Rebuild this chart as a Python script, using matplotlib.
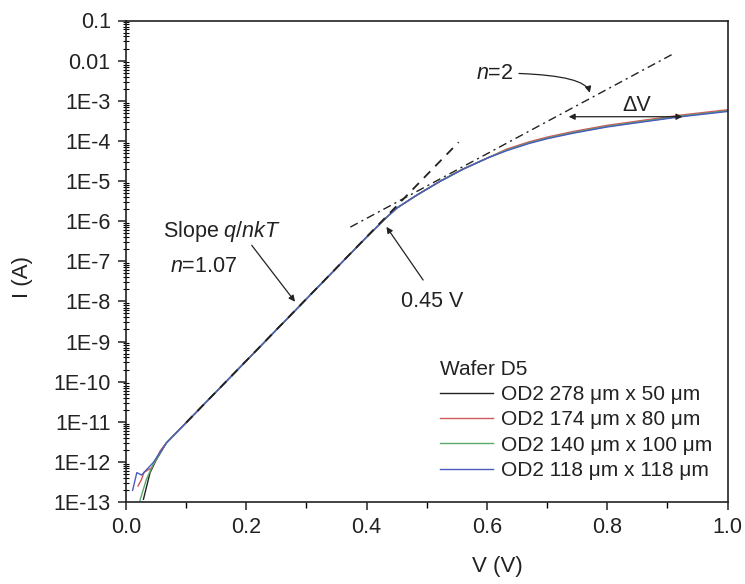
import numpy as np
import matplotlib
matplotlib.use("Agg")
import matplotlib.pyplot as plt
from matplotlib.ticker import FixedLocator, LogLocator, NullFormatter, MultipleLocator

plt.rcParams["font.family"] = ["Liberation Sans", "DejaVu Sans"]
plt.rcParams["mathtext.fontset"] = "custom"
plt.rcParams["mathtext.rm"] = "Liberation Sans"
plt.rcParams["mathtext.it"] = "Liberation Sans:italic"

# Shared forward-bias region (all four diodes overlap here), V in volts, I in amps
v_shared = [0.067, 0.10, 0.15, 0.20, 0.25, 0.30, 0.35, 0.40, 0.43, 0.45, 0.483,
            0.522, 0.561, 0.602, 0.633, 0.67, 0.70, 0.744, 0.80, 0.855, 0.92, 1.0]
i_shared = [2.95e-12, 9.5e-12, 5.6e-11, 3.3e-10, 1.95e-9, 1.15e-8, 6.8e-8, 4.0e-7,
            1.12e-6, 2.1e-6, 4.4e-6, 9.8e-6, 2.0e-5, 3.8e-5, 5.9e-5, 8.9e-5,
            1.17e-4, 1.62e-4, 2.3e-4, 3.0e-4, 4.1e-4, 5.6e-4]

# Low-voltage noise floor of each device
v_low_278 = [0.029, 0.040, 0.050]
i_low_278 = [1.17e-13, 5.4e-13, 1.1e-12]
v_low_174 = [0.020, 0.026, 0.030, 0.043, 0.057]
i_low_174 = [2.5e-13, 3.7e-13, 5.5e-13, 7.2e-13, 1.9e-12]
v_low_140 = [0.023, 0.034, 0.045]
i_low_140 = [1.07e-13, 3.7e-13, 8.5e-13]
v_low_118 = [0.011, 0.018, 0.026, 0.032, 0.045]
i_low_118 = [1.95e-13, 5.4e-13, 4.7e-13, 5.9e-13, 9.5e-13]

# High-injection tail where the devices separate slightly
v_tail = [0.633, 0.67, 0.70, 0.744, 0.80, 0.855, 0.92, 1.0]
i_tail_174 = [6.25e-5, 9.45e-5, 1.24e-4, 1.72e-4, 2.44e-4, 3.18e-4, 4.35e-4, 5.95e-4]
i_tail_118 = [5.7e-5, 8.6e-5, 1.13e-4, 1.56e-4, 2.22e-4, 2.9e-4, 3.95e-4, 5.4e-4]

labels = ["OD2 278 μm x 50 μm", "OD2 174 μm x 80 μm",
          "OD2 140 μm x 100 μm", "OD2 118 μm x 118 μm"]
colors = ["#222222", "#d05858", "#5aab6a", "#4a5cc0"]

# Ideality-factor guide lines
fit107_v = [0.10, 0.553]
fit107_i = [9.5e-12, 9.3e-5]
fit2_v = [0.373, 0.911]
fit2_i = [7.1e-7, 1.51e-2]

x_ticks = [0.0, 0.2, 0.4, 0.6, 0.8, 1.0]
x_ticklabels = ["0.0", "0.2", "0.4", "0.6", "0.8", "1.0"]
y_ticks = [1e-13, 1e-12, 1e-11, 1e-10, 1e-9, 1e-8, 1e-7, 1e-6, 1e-5, 1e-4, 1e-3, 1e-2, 1e-1]
y_ticklabels = ["1E-13", "1E-12", "1E-11", "1E-10", "1E-9", "1E-8", "1E-7",
                "1E-6", "1E-5", "1E-4", "1E-3", "0.01", "0.1"]


def build(v_low, i_low, tail=None):
    v = list(v_low) + list(v_shared)
    i = list(i_low) + list(i_shared)
    if tail is not None:
        n = len(v_tail)
        v = v[:-n] + list(v_tail)
        i = i[:-n] + list(tail)
    return v, i


series = [build(v_low_278, i_low_278),
          build(v_low_174, i_low_174, i_tail_174),
          build(v_low_140, i_low_140),
          build(v_low_118, i_low_118, i_tail_118)]

fig = plt.figure(figsize=(7.45, 5.84), dpi=100)
ax = fig.add_axes([126 / 745, 82 / 584, 601.5 / 745, 481.5 / 584])

for (v, i), lab, col in zip(series, labels, colors):
    ax.plot(v, i, color=col, lw=1.0, label=lab)

ax.plot(fit107_v, fit107_i, color="#222222", lw=1.3, ls=(0, (5, 4)))
ax.plot(fit2_v, fit2_i, color="#222222", lw=1.0, ls=(0, (6, 3, 1.5, 3)))

ax.set_yscale("log")
ax.set_xlim(0, 1.0)
ax.set_ylim(1e-13, 0.1)

ax.xaxis.set_major_locator(FixedLocator(x_ticks))
ax.set_xticklabels(x_ticklabels)
ax.xaxis.set_minor_locator(MultipleLocator(0.1))
ax.yaxis.set_major_locator(FixedLocator(y_ticks))
ax.set_yticklabels(y_ticklabels)
ax.yaxis.set_minor_locator(LogLocator(base=10, subs=np.arange(2, 10), numticks=100))
ax.yaxis.set_minor_formatter(NullFormatter())

ax.tick_params(axis="both", which="major", direction="out", length=6, width=1.1,
               labelsize=15.5, colors="#222222")
ax.tick_params(axis="x", which="major", pad=5)
ax.tick_params(axis="y", which="major", pad=5)
ax.tick_params(axis="x", which="minor", direction="out", length=4, width=1.0)
ax.tick_params(axis="y", which="minor", direction="inout", length=5, width=0.8)
ax.tick_params(top=False, right=False, which="both")
for s in ax.spines.values():
    s.set_linewidth(1.2)
    s.set_color("#222222")

ax.set_xlabel("V (V)", fontsize=16, color="#222222")
ax.set_ylabel("I (A)", fontsize=16, color="#222222")
ax.xaxis.set_label_coords(0.617, -0.112)
ax.yaxis.set_label_coords(-0.155, 0.467)

arrow_kw = dict(arrowstyle="-|>", color="#222222", lw=0.9, mutation_scale=9,
                shrinkA=0, shrinkB=0)

ax.text(0.0615, 5.5e-7, "Slope $q/nkT$", fontsize=15.5, ha="left", va="center", color="#222222")
ax.text(0.073, 7.2e-8, "$n$=1.07", fontsize=15.5, ha="left", va="center", color="#222222")
ax.annotate("", xy=(0.281, 9.8e-9), xytext=(0.209, 2.5e-7), arrowprops=arrow_kw)

ax.text(0.458, 9.8e-9, "0.45 V", fontsize=15.5, ha="left", va="center", color="#222222")
ax.annotate("", xy=(0.433, 7.2e-7), xytext=(0.494, 3.4e-8), arrowprops=arrow_kw)

ax.annotate("$n$=2", xy=(0.771, 1.58e-3), xytext=(0.613, 4.9e-3), fontsize=15.5,
            ha="center", va="center", color="#222222",
            arrowprops=dict(arrowstyle="-|>", color="#222222", lw=0.9, mutation_scale=9,
                            shrinkA=2, shrinkB=0,
                            connectionstyle="angle3,angleA=0,angleB=-75"))

ax.text(0.849, 7.7e-4, "ΔV", fontsize=15.5, ha="center", va="center", color="#222222")
ax.annotate("", xy=(0.925, 4.0e-4), xytext=(0.736, 4.0e-4),
            arrowprops=dict(arrowstyle="<|-|>", color="#222222", lw=0.9,
                            mutation_scale=9, shrinkA=0, shrinkB=0))

leg = ax.legend(title="Wafer D5", loc="upper left", bbox_to_anchor=(0.522, 0.295),
                frameon=False, fontsize=15, title_fontsize=15, handlelength=2.55,
                handletextpad=0.4, labelspacing=0.3, borderpad=0, borderaxespad=0,
                alignment="left")
for t in leg.get_texts():
    t.set_color("#222222")
leg.get_title().set_color("#222222")

fig.savefig("out.png", dpi=100, facecolor="white")
